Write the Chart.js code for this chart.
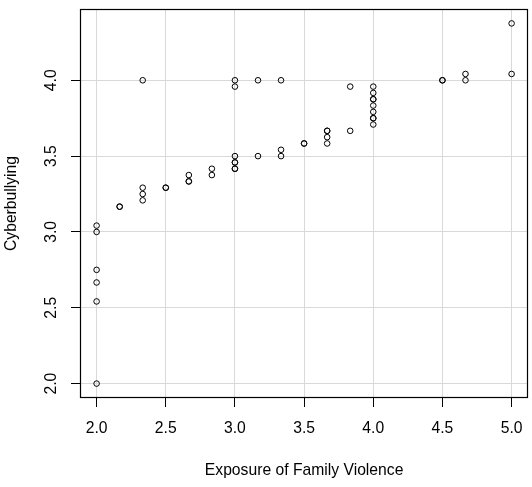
<!DOCTYPE html>
<html>
<head>
<meta charset="utf-8">
<script src="https://cdn.jsdelivr.net/npm/chart.js@4"></script>
<style>
html,body{margin:0;padding:0;background:#fff;}
#wrap{width:532px;height:487px;}
</style>
</head>
<body>
<div id="wrap"><canvas id="c" width="532" height="487"></canvas></div>
<script>
const exposureValues = [
  2.0, 2.0, 2.0, 2.0, 2.0, 2.0,
  2.1667, 2.1667,
  2.3333, 2.3333, 2.3333, 2.3333,
  2.5, 2.5,
  2.6667, 2.6667, 2.6667,
  2.8333, 2.8333,
  3.0, 3.0, 3.0, 3.0, 3.0, 3.0, 3.0,
  3.1667, 3.1667,
  3.3333, 3.3333, 3.3333,
  3.5, 3.5,
  3.6667, 3.6667, 3.6667, 3.6667,
  3.8333, 3.8333,
  4.0, 4.0, 4.0, 4.0, 4.0, 4.0, 4.0, 4.0, 4.0,
  4.5, 4.5,
  4.6667, 4.6667,
  5.0, 5.0
];
const cyberbullyingValues = [
  2.0, 2.5417, 2.6667, 2.75, 3.0, 3.0417,
  3.1667, 3.1667,
  4.0, 3.2917, 3.25, 3.2083,
  3.2917, 3.2917,
  3.375, 3.3333, 3.3333,
  3.4167, 3.375,
  4.0, 3.9583, 3.5, 3.4583, 3.4167, 3.4583, 3.4167,
  4.0, 3.5,
  4.0, 3.5417, 3.5,
  3.5833, 3.5833,
  3.6667, 3.625, 3.5833, 3.6667,
  3.9583, 3.6667,
  3.9583, 3.9167, 3.875, 3.8333, 3.7917, 3.75, 3.7083, 3.75, 3.875,
  4.0, 4.0,
  4.0417, 4.0,
  4.375, 4.0417
];
const xTickValues = [2.0, 2.5, 3.0, 3.5, 4.0, 4.5, 5.0];
const yTickValues = [2.0, 2.5, 3.0, 3.5, 4.0];
const xTitle = "Exposure of Family Violence";
const yTitle = "Cyberbullying";

const points = exposureValues.map((x, i) => ({x: x, y: cyberbullyingValues[i]}));

const FONT = "'Liberation Sans', Arial, sans-serif";

const boxPlugin = {
  id: 'box',
  afterDatasetsDraw(chart) {
    const a = chart.chartArea, ctx = chart.ctx;
    ctx.save();
    ctx.strokeStyle = '#000';
    ctx.lineWidth = 1.2;
    ctx.strokeRect(Math.round(a.left) + 0.5, Math.round(a.top) + 0.5,
                   Math.round(a.right - a.left) - 1, Math.round(a.bottom - a.top) - 1);
    ctx.restore();
  }
};

new Chart(document.getElementById('c'), {
  type: 'scatter',
  data: {
    datasets: [{
      data: points,
      pointRadius: 2.8,
      pointHoverRadius: 2.8,
      pointBorderWidth: 1,
      pointBorderColor: '#000',
      pointBackgroundColor: 'rgba(0,0,0,0)'
    }]
  },
  options: {
    responsive: false,
    animation: false,
    layout: {padding: {left: 0, right: 3, top: 9, bottom: 0}},
    plugins: {legend: {display: false}, tooltip: {enabled: false}},
    scales: {
      x: {
        type: 'linear',
        min: 1.88,
        max: 5.12,
        afterBuildTicks: s => { s.ticks = xTickValues.map(v => ({value: v})); },
        afterFit: s => { s.height = 89; s.paddingLeft = 0; s.paddingRight = 0; },
        grid: {color: '#d9d9d9', lineWidth: 1, tickColor: '#000', tickLength: 9, drawTicks: true},
        border: {display: false},
        ticks: {
          color: '#000', padding: 12, maxRotation: 0,
          font: {family: FONT, size: 15.7},
          callback: v => v.toFixed(1)
        },
        title: {display: true, text: xTitle, color: '#000',
                font: {family: FONT, size: 15.7}, padding: {top: 0, bottom: 6.6}}
      },
      y: {
        type: 'linear',
        min: 1.905,
        max: 4.47,
        afterBuildTicks: s => { s.ticks = yTickValues.map(v => ({value: v})); },
        afterFit: s => { s.width = 80; s.paddingTop = 0; s.paddingBottom = 0; },
        grid: {color: '#d9d9d9', lineWidth: 1, tickColor: '#000', tickLength: 9, drawTicks: true},
        border: {display: false},
        ticks: {
          color: '#000', padding: 8, minRotation: 90, maxRotation: 90, crossAlign: 'center',
          font: {family: FONT, size: 15.7},
          callback: v => v.toFixed(1)
        },
        title: {display: true, text: yTitle, color: '#000',
                font: {family: FONT, size: 15.7}, padding: {top: 2, bottom: 0}}
      }
    }
  },
  plugins: [boxPlugin]
});
</script>
</body>
</html>
